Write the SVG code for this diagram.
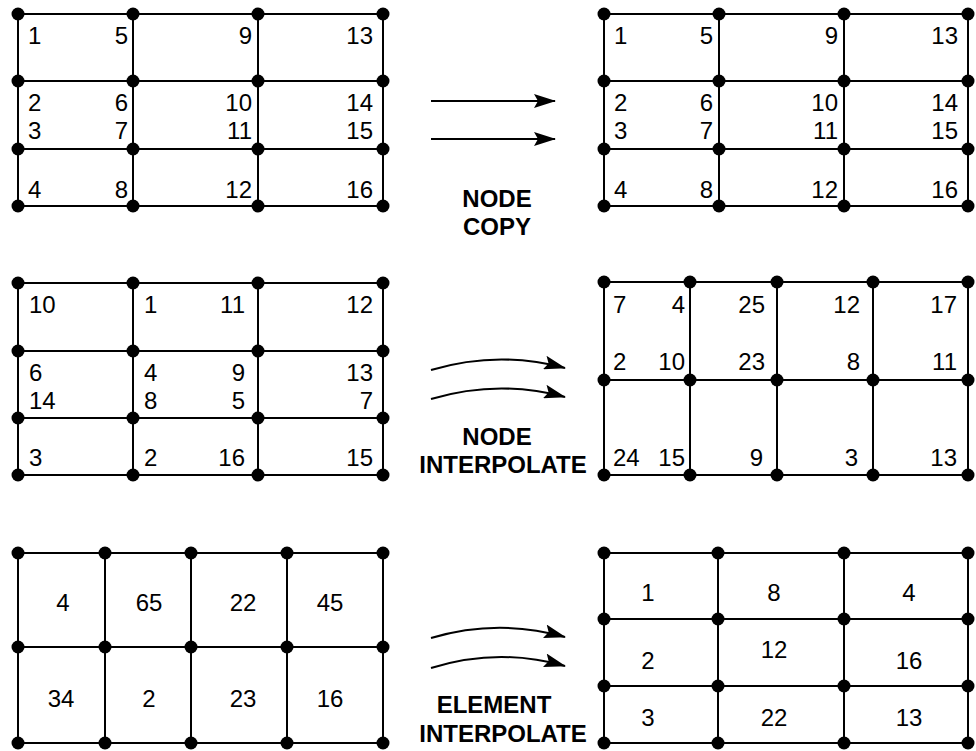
<svg xmlns="http://www.w3.org/2000/svg" width="976" height="751" viewBox="0 0 976 751">
<style>
.g{stroke:#000;stroke-width:2;fill:none}
.d{fill:#000}
.t{font-family:"Liberation Sans",Arial,sans-serif;font-size:24px;fill:#000}
.s{text-anchor:start}.e{text-anchor:end}.m{text-anchor:middle}
.lb{font-family:"Liberation Sans",Arial,sans-serif;font-size:24px;font-weight:bold;fill:#000;text-anchor:middle}
.a{stroke:#000;stroke-width:2;fill:none;marker-end:url(#ah)}
</style>
<defs>
<marker id="ah" viewBox="0 0 22 14" refX="21" refY="7" markerWidth="22" markerHeight="14" markerUnits="userSpaceOnUse" orient="auto">
<path d="M0,0 L22,7 L0,14 L4,7 z" fill="#000"/>
</marker>
<circle id="n" r="6.5" fill="#000"/>
</defs>
<rect width="976" height="751" fill="#fff"/>

<!-- Top left -->
<g id="grid-copy-src">
<path class="g" d="M18,14H383M18,81H383M18,149H383M18,206H383M18,14V206M133,14V206M258,14V206M383,14V206"/>
<g class="d">
<use href="#n" x="18" y="14"/><use href="#n" x="133" y="14"/><use href="#n" x="258" y="14"/><use href="#n" x="383" y="14"/>
<use href="#n" x="18" y="81"/><use href="#n" x="133" y="81"/><use href="#n" x="258" y="81"/><use href="#n" x="383" y="81"/>
<use href="#n" x="18" y="149"/><use href="#n" x="133" y="149"/><use href="#n" x="258" y="149"/><use href="#n" x="383" y="149"/>
<use href="#n" x="18" y="206"/><use href="#n" x="133" y="206"/><use href="#n" x="258" y="206"/><use href="#n" x="383" y="206"/>
</g>
<text class="t s" x="28" y="44">1</text><text class="t e" x="128" y="44">5</text><text class="t e" x="252" y="44">9</text><text class="t e" x="373" y="44">13</text>
<text class="t s" x="28" y="111">2</text><text class="t e" x="128" y="111">6</text><text class="t e" x="252" y="111">10</text><text class="t e" x="373" y="111">14</text>
<text class="t s" x="28" y="139">3</text><text class="t e" x="128" y="139">7</text><text class="t e" x="252" y="139">11</text><text class="t e" x="373" y="139">15</text>
<text class="t s" x="28" y="198">4</text><text class="t e" x="128" y="198">8</text><text class="t e" x="252" y="198">12</text><text class="t e" x="373" y="198">16</text>
</g>

<!-- Top right -->
<g id="grid-copy-dst">
<path class="g" d="M604,14H968M604,81H968M604,149H968M604,206H968M604,14V206M719,14V206M844,14V206M968,14V206"/>
<g class="d">
<use href="#n" x="604" y="14"/><use href="#n" x="719" y="14"/><use href="#n" x="844" y="14"/><use href="#n" x="968" y="14"/>
<use href="#n" x="604" y="81"/><use href="#n" x="719" y="81"/><use href="#n" x="844" y="81"/><use href="#n" x="968" y="81"/>
<use href="#n" x="604" y="149"/><use href="#n" x="719" y="149"/><use href="#n" x="844" y="149"/><use href="#n" x="968" y="149"/>
<use href="#n" x="604" y="206"/><use href="#n" x="719" y="206"/><use href="#n" x="844" y="206"/><use href="#n" x="968" y="206"/>
</g>
<text class="t s" x="614" y="44">1</text><text class="t e" x="713" y="44">5</text><text class="t e" x="838" y="44">9</text><text class="t e" x="958" y="44">13</text>
<text class="t s" x="614" y="111">2</text><text class="t e" x="713" y="111">6</text><text class="t e" x="838" y="111">10</text><text class="t e" x="958" y="111">14</text>
<text class="t s" x="614" y="139">3</text><text class="t e" x="713" y="139">7</text><text class="t e" x="838" y="139">11</text><text class="t e" x="958" y="139">15</text>
<text class="t s" x="614" y="198">4</text><text class="t e" x="713" y="198">8</text><text class="t e" x="838" y="198">12</text><text class="t e" x="958" y="198">16</text>
</g>

<!-- Middle left -->
<g id="grid-node-interp-src">
<path class="g" d="M18,283H383M18,351H383M18,418H383M18,475H383M18,283V475M133,283V475M258,283V475M383,283V475"/>
<g class="d">
<use href="#n" x="18" y="283"/><use href="#n" x="133" y="283"/><use href="#n" x="258" y="283"/><use href="#n" x="383" y="283"/>
<use href="#n" x="18" y="351"/><use href="#n" x="133" y="351"/><use href="#n" x="258" y="351"/><use href="#n" x="383" y="351"/>
<use href="#n" x="18" y="418"/><use href="#n" x="133" y="418"/><use href="#n" x="258" y="418"/><use href="#n" x="383" y="418"/>
<use href="#n" x="18" y="475"/><use href="#n" x="133" y="475"/><use href="#n" x="258" y="475"/><use href="#n" x="383" y="475"/>
</g>
<text class="t s" x="29" y="313">10</text><text class="t s" x="144" y="313">1</text><text class="t e" x="245" y="313">11</text><text class="t e" x="373" y="313">12</text>
<text class="t s" x="29" y="381">6</text><text class="t s" x="144" y="381">4</text><text class="t e" x="245" y="381">9</text><text class="t e" x="373" y="381">13</text>
<text class="t s" x="29" y="409">14</text><text class="t s" x="144" y="409">8</text><text class="t e" x="245" y="409">5</text><text class="t e" x="373" y="409">7</text>
<text class="t s" x="29" y="466">3</text><text class="t s" x="144" y="466">2</text><text class="t e" x="245" y="466">16</text><text class="t e" x="373" y="466">15</text>
</g>

<!-- Middle right -->
<g id="grid-node-interp-dst">
<path class="g" d="M604,282H968M604,380H968M604,475H968M604,282V475M690,282V475M777,282V475M873,282V475M968,282V475"/>
<g class="d">
<use href="#n" x="604" y="282"/><use href="#n" x="690" y="282"/><use href="#n" x="777" y="282"/><use href="#n" x="873" y="282"/><use href="#n" x="968" y="282"/>
<use href="#n" x="604" y="380"/><use href="#n" x="690" y="380"/><use href="#n" x="777" y="380"/><use href="#n" x="873" y="380"/><use href="#n" x="968" y="380"/>
<use href="#n" x="604" y="475"/><use href="#n" x="690" y="475"/><use href="#n" x="777" y="475"/><use href="#n" x="873" y="475"/><use href="#n" x="968" y="475"/>
</g>
<text class="t s" x="613" y="313">7</text><text class="t e" x="685" y="313">4</text><text class="t e" x="765" y="313">25</text><text class="t e" x="860" y="313">12</text><text class="t e" x="957" y="313">17</text>
<text class="t s" x="613" y="370">2</text><text class="t e" x="685" y="370">10</text><text class="t e" x="765" y="370">23</text><text class="t e" x="860" y="370">8</text><text class="t e" x="957" y="370">11</text>
<text class="t s" x="613" y="466">24</text><text class="t e" x="685" y="466">15</text><text class="t e" x="763" y="466">9</text><text class="t e" x="858" y="466">3</text><text class="t e" x="957" y="466">13</text>
</g>

<!-- Bottom left -->
<g id="grid-elem-interp-src">
<path class="g" d="M18,553H383M18,647H383M18,743H383M18,553V743M105,553V743M191,553V743M287,553V743M383,553V743"/>
<g class="d">
<use href="#n" x="18" y="553"/><use href="#n" x="105" y="553"/><use href="#n" x="191" y="553"/><use href="#n" x="287" y="553"/><use href="#n" x="383" y="553"/>
<use href="#n" x="18" y="647"/><use href="#n" x="105" y="647"/><use href="#n" x="191" y="647"/><use href="#n" x="287" y="647"/><use href="#n" x="383" y="647"/>
<use href="#n" x="18" y="743"/><use href="#n" x="105" y="743"/><use href="#n" x="191" y="743"/><use href="#n" x="287" y="743"/><use href="#n" x="383" y="743"/>
</g>
<text class="t m" x="63" y="611">4</text><text class="t m" x="149" y="611">65</text><text class="t m" x="243" y="611">22</text><text class="t m" x="330" y="611">45</text>
<text class="t m" x="61" y="707">34</text><text class="t m" x="149" y="707">2</text><text class="t m" x="243" y="707">23</text><text class="t m" x="330" y="707">16</text>
</g>

<!-- Bottom right -->
<g id="grid-elem-interp-dst">
<path class="g" d="M604,553H968M604,619H968M604,686H968M604,743H968M604,553V743M718,553V743M844,553V743M968,553V743"/>
<g class="d">
<use href="#n" x="604" y="553"/><use href="#n" x="718" y="553"/><use href="#n" x="844" y="553"/><use href="#n" x="968" y="553"/>
<use href="#n" x="604" y="619"/><use href="#n" x="718" y="619"/><use href="#n" x="844" y="619"/><use href="#n" x="968" y="619"/>
<use href="#n" x="604" y="686"/><use href="#n" x="718" y="686"/><use href="#n" x="844" y="686"/><use href="#n" x="968" y="686"/>
<use href="#n" x="604" y="743"/><use href="#n" x="718" y="743"/><use href="#n" x="844" y="743"/><use href="#n" x="968" y="743"/>
</g>
<text class="t m" x="648" y="601">1</text><text class="t m" x="774" y="601">8</text><text class="t m" x="909" y="601">4</text>
<text class="t m" x="648" y="669">2</text><text class="t m" x="774" y="658">12</text><text class="t m" x="909" y="669">16</text>
<text class="t m" x="648" y="726">3</text><text class="t m" x="774" y="726">22</text><text class="t m" x="909" y="726">13</text>
</g>

<!-- Connectors -->
<g id="connectors">
<path class="a" d="M431,101H555"/>
<path class="a" d="M431,139H555"/>
<path class="a" d="M431,370Q498,350 565,368"/>
<path class="a" d="M431,399Q498,379 565,397"/>
<path class="a" d="M431,638Q498,618 565,637"/>
<path class="a" d="M431,668Q498,647 565,666"/>
</g>

<g id="labels">
<text class="lb" x="497" y="207">NODE</text>
<text class="lb" x="497" y="235">COPY</text>
<text class="lb" x="497" y="445">NODE</text>
<text class="lb" x="503" y="473">INTERPOLATE</text>
<text class="lb" x="494" y="713">ELEMENT</text>
<text class="lb" x="503" y="742">INTERPOLATE</text>
</g>
</svg>
